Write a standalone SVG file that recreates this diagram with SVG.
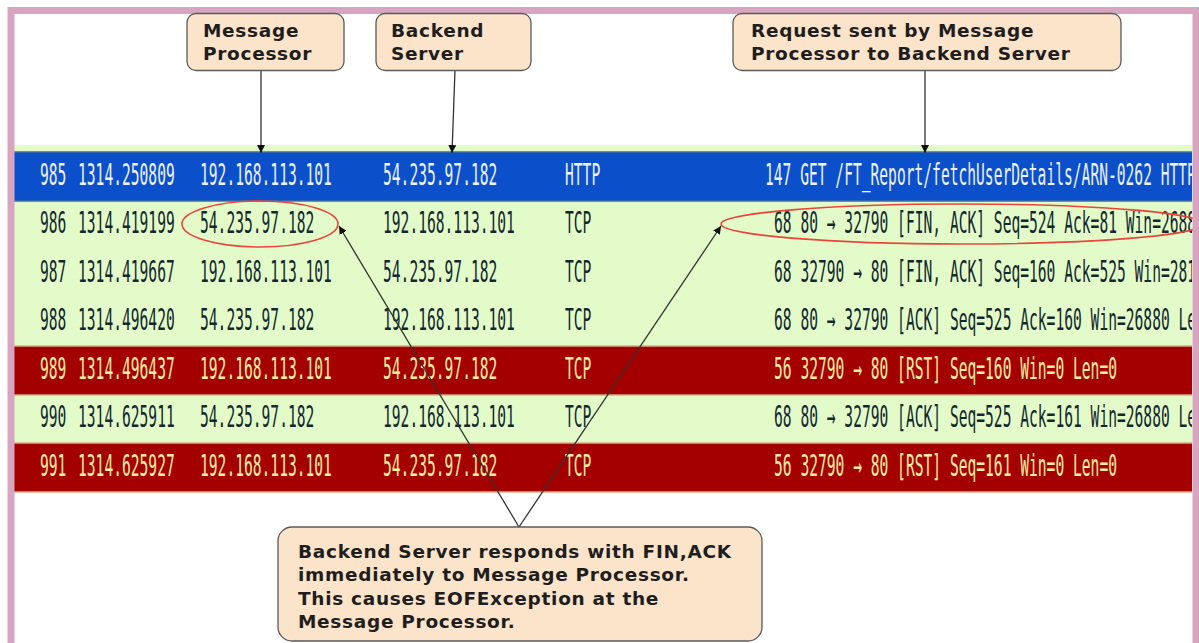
<svg xmlns="http://www.w3.org/2000/svg" width="1199" height="643" viewBox="0 0 1199 643">
<style>
.m{font-family:"DejaVu Sans Mono","Liberation Mono",monospace;font-size:30px}
.g{fill:#12272e}
.b{fill:#eef3ff}
.r{fill:#fbeea0}
.lbl{font-family:"DejaVu Sans","Verdana","Liberation Sans",sans-serif;font-weight:bold;font-size:18.5px;letter-spacing:0.7px;fill:#1e1e1e}
.box{fill:#fce4cb;stroke:#5a5a5a;stroke-width:1.3}
.con{stroke:#333;stroke-width:1.3;fill:none}
.hl{fill:none;stroke:#e8463c;stroke-width:1.6}
</style>
<defs>
<marker id="ah" viewBox="0 0 10 10" refX="10" refY="5" markerWidth="8" markerHeight="8" markerUnits="userSpaceOnUse" orient="auto">
<path d="M0,0 L10,5 L0,10 z" fill="#111"/>
</marker>
<clipPath id="tclip"><rect x="14" y="140" width="1178" height="360"/></clipPath>
</defs>
<rect x="0" y="0" width="1199" height="643" fill="#ffffff"/>
<g id="packet-table" clip-path="url(#tclip)">
<rect x="14" y="145" width="1180" height="347" fill="#e3fbc9"/>
<rect x="14" y="152" width="1180" height="49" fill="#0c4fcb"/>
<rect x="14" y="346" width="1180" height="49" fill="#a40000"/>
<rect x="14" y="443" width="1180" height="49" fill="#a40000"/>
<g stroke-width="1.5" fill="none">
<line x1="14" y1="152" x2="1194" y2="152" stroke="#3f6aa8"/>
<line x1="14" y1="201" x2="1194" y2="201" stroke="#3f6aa8"/>
<line x1="14" y1="346" x2="1194" y2="346" stroke="#d6ad8a"/>
<line x1="14" y1="395" x2="1194" y2="395" stroke="#d6ad8a"/>
<line x1="14" y1="443" x2="1194" y2="443" stroke="#d6ad8a"/>
<line x1="14" y1="492" x2="1194" y2="492" stroke="#d6ad8a"/>
</g>
<g id="row-985" class="m b">
<text transform="translate(40,185) scale(0.4873,1)">985</text>
<text transform="translate(78,185) scale(0.4873,1)">1314.250809</text>
<text transform="translate(200,185) scale(0.4873,1)">192.168.113.101</text>
<text transform="translate(383,185) scale(0.4873,1)">54.235.97.182</text>
<text transform="translate(565,185) scale(0.4873,1)">HTTP</text>
<text transform="translate(765,185) scale(0.4873,1)">147 GET /FT_Report/fetchUserDetails/ARN-0262 HTTP</text>
</g>
<g id="row-986" class="m g">
<text transform="translate(40,233) scale(0.4873,1)">986</text>
<text transform="translate(78,233) scale(0.4873,1)">1314.419199</text>
<text transform="translate(200,233) scale(0.4873,1)">54.235.97.182</text>
<text transform="translate(383,233) scale(0.4873,1)">192.168.113.101</text>
<text transform="translate(565,233) scale(0.4873,1)">TCP</text>
<text transform="translate(774,233) scale(0.4873,1)">68 80 → 32790 [FIN, ACK] Seq=524 Ack=81 Win=2688</text>
</g>
<g id="row-987" class="m g">
<text transform="translate(40,282) scale(0.4873,1)">987</text>
<text transform="translate(78,282) scale(0.4873,1)">1314.419667</text>
<text transform="translate(200,282) scale(0.4873,1)">192.168.113.101</text>
<text transform="translate(383,282) scale(0.4873,1)">54.235.97.182</text>
<text transform="translate(565,282) scale(0.4873,1)">TCP</text>
<text transform="translate(774,282) scale(0.4873,1)">68 32790 → 80 [FIN, ACK] Seq=160 Ack=525 Win=281</text>
</g>
<g id="row-988" class="m g">
<text transform="translate(40,330) scale(0.4873,1)">988</text>
<text transform="translate(78,330) scale(0.4873,1)">1314.496420</text>
<text transform="translate(200,330) scale(0.4873,1)">54.235.97.182</text>
<text transform="translate(383,330) scale(0.4873,1)">192.168.113.101</text>
<text transform="translate(565,330) scale(0.4873,1)">TCP</text>
<text transform="translate(774,330) scale(0.4873,1)">68 80 → 32790 [ACK] Seq=525 Ack=160 Win=26880 Le</text>
</g>
<g id="row-989" class="m r">
<text transform="translate(40,379) scale(0.4873,1)">989</text>
<text transform="translate(78,379) scale(0.4873,1)">1314.496437</text>
<text transform="translate(200,379) scale(0.4873,1)">192.168.113.101</text>
<text transform="translate(383,379) scale(0.4873,1)">54.235.97.182</text>
<text transform="translate(565,379) scale(0.4873,1)">TCP</text>
<text transform="translate(774,379) scale(0.4873,1)">56 32790 → 80 [RST] Seq=160 Win=0 Len=0</text>
</g>
<g id="row-990" class="m g">
<text transform="translate(40,427) scale(0.4873,1)">990</text>
<text transform="translate(78,427) scale(0.4873,1)">1314.625911</text>
<text transform="translate(200,427) scale(0.4873,1)">54.235.97.182</text>
<text transform="translate(383,427) scale(0.4873,1)">192.168.113.101</text>
<text transform="translate(565,427) scale(0.4873,1)">TCP</text>
<text transform="translate(774,427) scale(0.4873,1)">68 80 → 32790 [ACK] Seq=525 Ack=161 Win=26880 Le</text>
</g>
<g id="row-991" class="m r">
<text transform="translate(40,476) scale(0.4873,1)">991</text>
<text transform="translate(78,476) scale(0.4873,1)">1314.625927</text>
<text transform="translate(200,476) scale(0.4873,1)">192.168.113.101</text>
<text transform="translate(383,476) scale(0.4873,1)">54.235.97.182</text>
<text transform="translate(565,476) scale(0.4873,1)">TCP</text>
<text transform="translate(774,476) scale(0.4873,1)">56 32790 → 80 [RST] Seq=161 Win=0 Len=0</text>
</g>
</g>
<g id="highlights">
<ellipse class="hl" cx="260" cy="224" rx="78" ry="23"/>
<ellipse class="hl" cx="962" cy="224" rx="241" ry="20"/>
</g>
<g id="connectors">
<line class="con" x1="261" y1="70" x2="261" y2="153" marker-end="url(#ah)"/>
<line class="con" x1="455" y1="70" x2="452" y2="153" marker-end="url(#ah)"/>
<line class="con" x1="925" y1="70" x2="925" y2="153" marker-end="url(#ah)"/>
<line class="con" x1="519" y1="527" x2="339" y2="226" marker-end="url(#ah)"/>
<line class="con" x1="519" y1="527" x2="721" y2="226" marker-end="url(#ah)"/>
</g>
<rect id="frame" x="11" y="10.5" width="1185" height="700" fill="none" stroke="#d7a5bf" stroke-width="7"/>
<g id="node-message-processor">
<rect class="box" x="187" y="13.5" width="157" height="57" rx="9"/>
<text class="lbl" x="203" y="37">Message</text>
<text class="lbl" x="203" y="60">Processor</text>
</g>
<g id="node-backend-server">
<rect class="box" x="376" y="13.5" width="155" height="57" rx="9"/>
<text class="lbl" x="391" y="37">Backend</text>
<text class="lbl" x="391" y="60">Server</text>
</g>
<g id="node-request">
<rect class="box" x="733" y="13.5" width="388" height="57" rx="9"/>
<text class="lbl" x="751" y="37">Request sent by Message</text>
<text class="lbl" x="751" y="60">Processor to Backend Server</text>
</g>
<g id="node-explanation">
<rect class="box" x="278" y="527" width="484" height="114" rx="14"/>
<text class="lbl" x="298" y="557.5">Backend Server responds with FIN,ACK</text>
<text class="lbl" x="298" y="581">immediately to Message Processor.</text>
<text class="lbl" x="298" y="604.5">This causes EOFException at the</text>
<text class="lbl" x="298" y="628">Message Processor.</text>
</g>
</svg>
